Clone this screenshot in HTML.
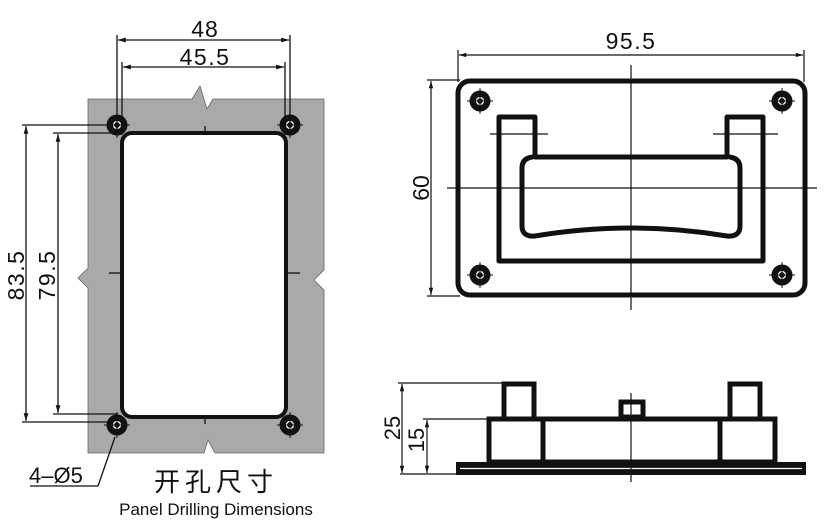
<!DOCTYPE html>
<html><head><meta charset="utf-8"><style>
html,body{margin:0;padding:0;background:#fff;}
svg{display:block;}
text{font-family:"Liberation Sans","Noto Sans CJK SC",sans-serif;fill:#111;}
</style></head><body>
<svg width="829" height="527" viewBox="0 0 829 527" xmlns="http://www.w3.org/2000/svg">
<defs>
<marker id="ar" viewBox="0 0 10 10" refX="10" refY="5" markerWidth="8" markerHeight="6" orient="auto-start-reverse"><path d="M0,2 L10,5 L0,8 z" fill="#111"/></marker>
<g id="hole"><circle r="10.5" fill="#111"/><circle r="3.5" fill="none" stroke="#fff" stroke-width="1.3"/><line x1="-3.5" y1="0" x2="3.5" y2="0" stroke="#fff" stroke-width="1"/><line x1="0" y1="-3.5" x2="0" y2="3.5" stroke="#fff" stroke-width="1"/><line x1="-13" y1="0" x2="13" y2="0" stroke="#111" stroke-width="1"/><line x1="0" y1="-13" x2="0" y2="13" stroke="#111" stroke-width="1"/></g>
</defs>
<!-- Left panel -->
<path d="M88,99 L192,99 L200,86 L207,109 L213,99 L324,99 L324,270 L314,280 L324,290 L324,453 L215,453 L208,440 L204,453 L88,453 L88,288 L78,278 L88,268 Z" fill="#a9a9a9" stroke="#666" stroke-width="0.8"/>
<rect x="122" y="133" width="164" height="284" rx="10" fill="#fff" stroke="#111" stroke-width="4"/>
<use href="#hole" x="117" y="125"/><use href="#hole" x="290" y="125"/><use href="#hole" x="117" y="425"/><use href="#hole" x="290" y="425"/>
<g stroke="#111" stroke-width="1.3">
<line x1="205" y1="126" x2="205" y2="134"/><line x1="205" y1="416" x2="205" y2="424"/>
<line x1="109" y1="273" x2="122" y2="273"/><line x1="286" y1="273" x2="300" y2="273"/>
<line x1="117" y1="35" x2="117" y2="130"/><line x1="290" y1="35" x2="290" y2="130"/>
<line x1="122" y1="62" x2="122" y2="135"/><line x1="285" y1="62" x2="285" y2="135"/>
<line x1="118" y1="40" x2="289" y2="40" marker-start="url(#ar)" marker-end="url(#ar)"/>
<line x1="123" y1="67" x2="284" y2="67" marker-start="url(#ar)" marker-end="url(#ar)"/>
<line x1="22" y1="125" x2="110" y2="125"/><line x1="22" y1="422" x2="110" y2="422"/>
<line x1="53" y1="133" x2="118" y2="133"/><line x1="53" y1="414" x2="118" y2="414"/>
<line x1="26" y1="126" x2="26" y2="421" marker-start="url(#ar)" marker-end="url(#ar)"/>
<line x1="58" y1="134" x2="58" y2="413" marker-start="url(#ar)" marker-end="url(#ar)"/>
<line x1="30" y1="486" x2="98" y2="486"/><line x1="98" y1="486" x2="115" y2="437"/>
</g>
<text x="205" y="37" font-size="23" text-anchor="middle" letter-spacing="1">48</text>
<text x="205" y="65" font-size="23" text-anchor="middle" letter-spacing="1.5">45.5</text>
<text transform="translate(24,275) rotate(-90)" font-size="23" text-anchor="middle" letter-spacing="1.5">83.5</text>
<text transform="translate(55,275) rotate(-90)" font-size="23" text-anchor="middle" letter-spacing="1.5">79.5</text>
<text x="29" y="483" font-size="22">4–Ø5</text>
<text x="216" y="491" font-size="26" text-anchor="middle" letter-spacing="5">开孔尺寸</text>
<text x="216" y="515" font-size="17" text-anchor="middle">Panel Drilling Dimensions</text>
<!-- Right top -->
<g stroke="#111" fill="none">
<rect x="458" y="81" width="347" height="214" rx="12" stroke-width="5"/>
<path d="M499,117 L535,117 L535,157 L727,157 L727,117 L763,117 L763,261 L499,261 Z" stroke-width="5" stroke-linejoin="round"/>
<path d="M533,157 Q522,158 522,168 L522,226 Q522,237 535,236 Q631,220 727,236 Q740,237 740,226 L740,168 Q740,158 729,157" stroke-width="5"/>
<g stroke-width="1.2">
<line x1="631" y1="65" x2="631" y2="310"/><line x1="447" y1="188" x2="817" y2="188"/>
<line x1="490" y1="134" x2="548" y2="134"/><line x1="713" y1="134" x2="778" y2="134"/>
<line x1="458" y1="50" x2="458" y2="82"/><line x1="804" y1="50" x2="804" y2="82"/>
<line x1="459" y1="55" x2="803" y2="55" marker-start="url(#ar)" marker-end="url(#ar)"/>
<line x1="427" y1="80" x2="460" y2="80"/><line x1="427" y1="296" x2="460" y2="296"/>
<line x1="431" y1="81" x2="431" y2="295" marker-start="url(#ar)" marker-end="url(#ar)"/>
</g>
</g>
<use href="#hole" x="480" y="101"/><use href="#hole" x="782" y="101"/><use href="#hole" x="480" y="275"/><use href="#hole" x="782" y="275"/>
<text x="631" y="49" font-size="23" text-anchor="middle" letter-spacing="1.5">95.5</text>
<text transform="translate(429,188) rotate(-90)" font-size="23" text-anchor="middle">60</text>
<!-- Bottom side view -->
<rect x="456" y="462" width="350" height="13" fill="#111"/>
<line x1="460" y1="468.5" x2="802" y2="468.5" stroke="#fff" stroke-width="1.2"/>
<g stroke="#111" fill="none">
<rect x="489" y="419" width="286" height="43" stroke-width="5"/>
<line x1="543" y1="419" x2="543" y2="462" stroke-width="5"/>
<line x1="720" y1="419" x2="720" y2="462" stroke-width="5"/>
<rect x="504" y="384" width="30" height="35" stroke-width="5"/>
<rect x="730" y="384" width="30" height="35" stroke-width="5"/>
<rect x="621" y="402" width="22" height="15" stroke-width="5"/>
<g stroke-width="1.2">
<line x1="631" y1="393" x2="631" y2="482"/>
<line x1="398" y1="383" x2="503" y2="383"/><line x1="423" y1="419" x2="488" y2="419"/><line x1="400" y1="474" x2="456" y2="474"/>
<line x1="402" y1="384" x2="402" y2="473" marker-start="url(#ar)" marker-end="url(#ar)"/>
<line x1="427" y1="420" x2="427" y2="473" marker-start="url(#ar)" marker-end="url(#ar)"/>
</g>
</g>
<text transform="translate(400,428) rotate(-90)" font-size="22" text-anchor="middle">25</text>
<text transform="translate(424,440) rotate(-90)" font-size="22" text-anchor="middle">15</text>
</svg>
</body></html>
